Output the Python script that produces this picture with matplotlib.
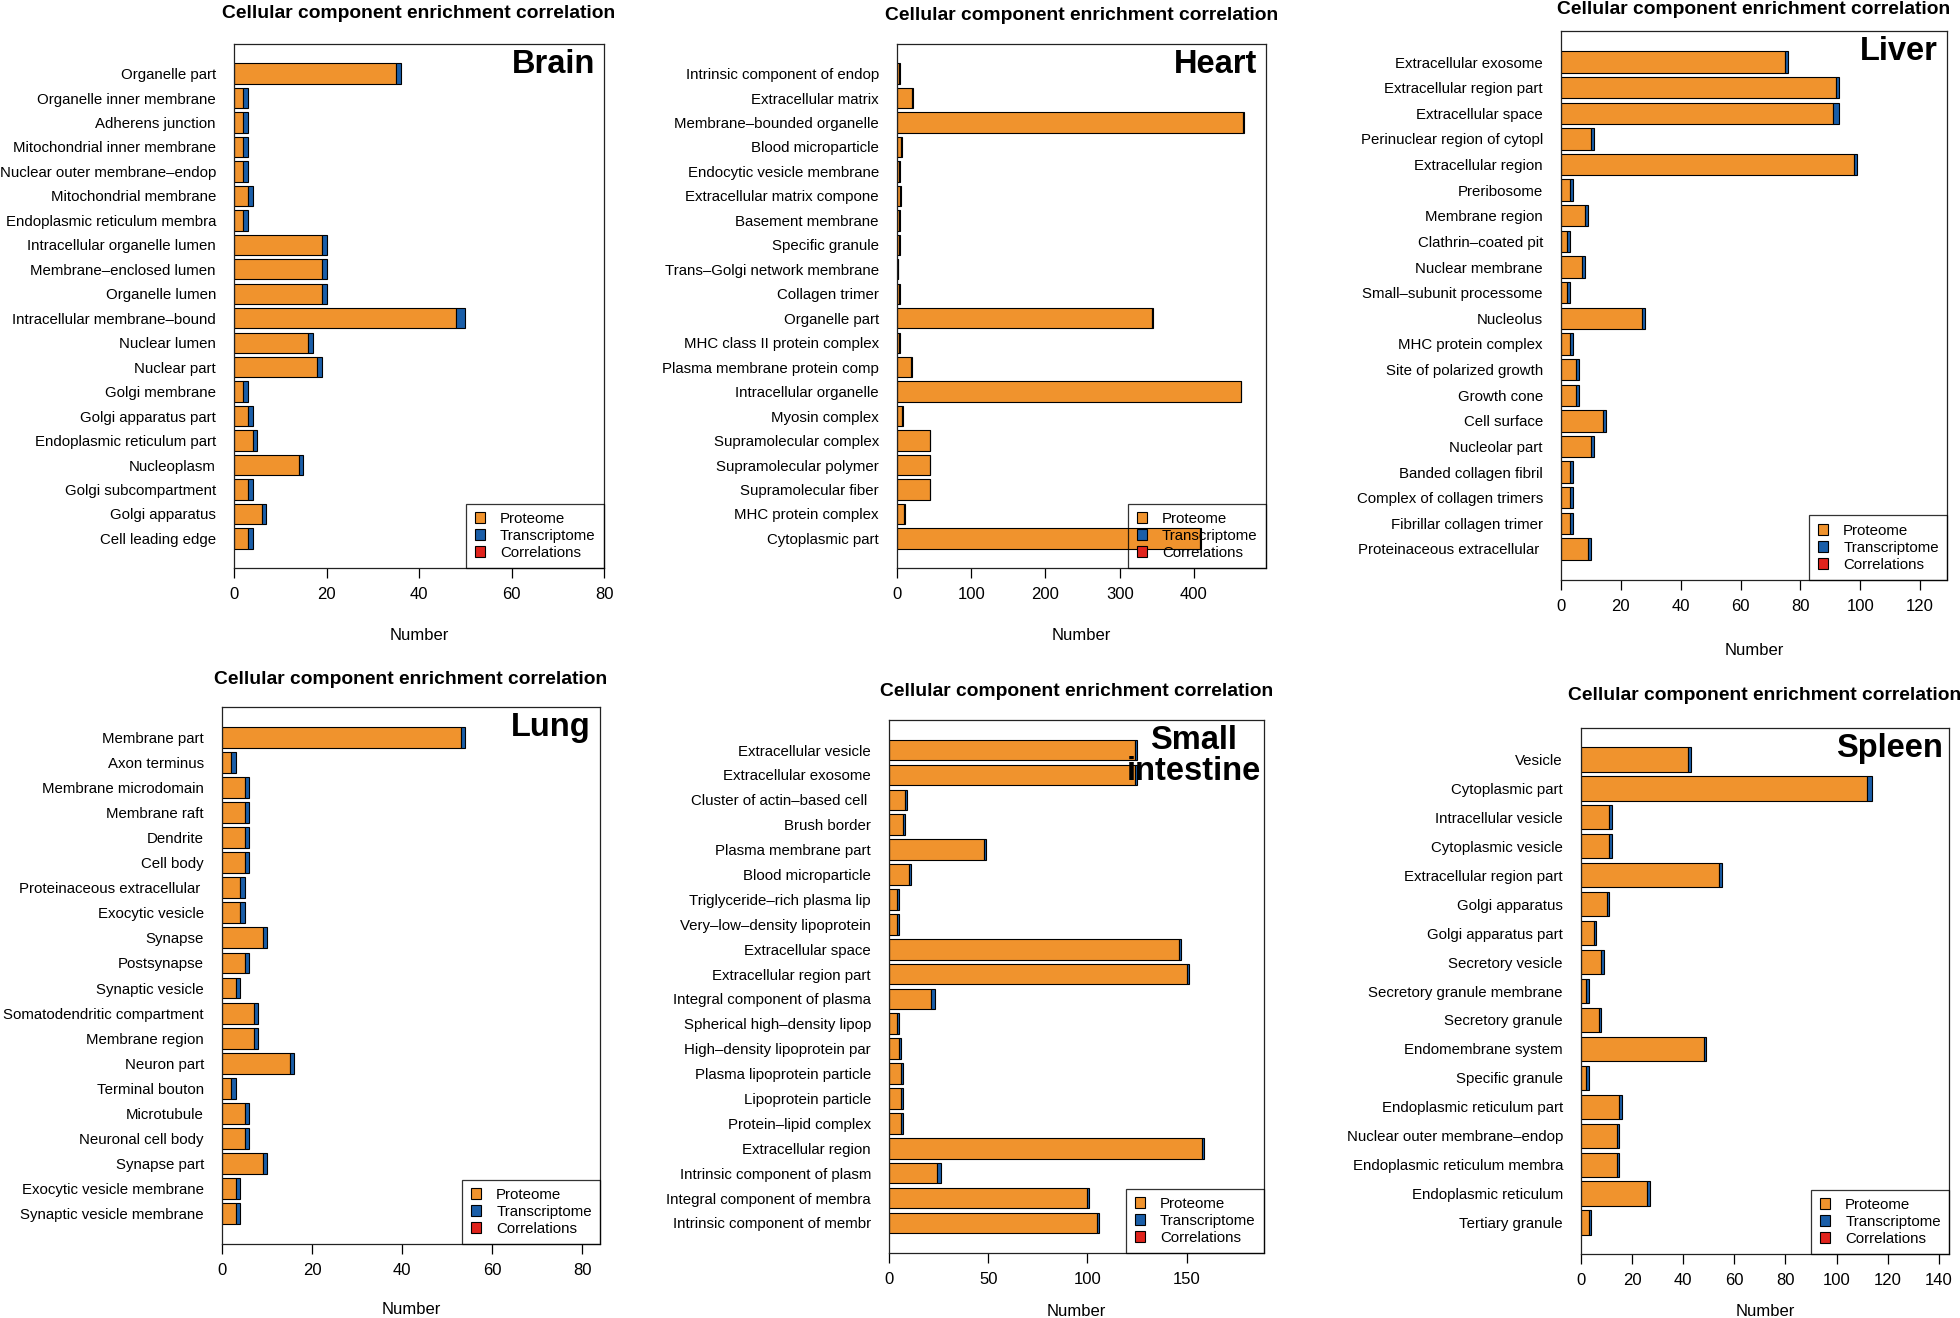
import numpy as np
import matplotlib.pyplot as plt
from matplotlib.patches import Patch
from matplotlib.ticker import MultipleLocator

plt.rcParams['font.family'] = ['Liberation Sans', 'DejaVu Sans']

# ---- data (top to bottom as shown) ----
brain_terms = ['Organelle part', 'Organelle inner membrane', 'Adherens junction',
               'Mitochondrial inner membrane', 'Nuclear outer membrane–endop',
               'Mitochondrial membrane', 'Endoplasmic reticulum membra',
               'Intracellular organelle lumen', 'Membrane–enclosed lumen', 'Organelle lumen',
               'Intracellular membrane–bound', 'Nuclear lumen', 'Nuclear part', 'Golgi membrane',
               'Golgi apparatus part', 'Endoplasmic reticulum part', 'Nucleoplasm',
               'Golgi subcompartment', 'Golgi apparatus', 'Cell leading edge']
brain_prot = [35, 2, 2, 2, 2, 3, 2, 19, 19, 19, 48, 16, 18, 2, 3, 4, 14, 3, 6, 3]
brain_trans = [1, 1, 1, 1, 1, 1, 1, 1, 1, 1, 2, 1, 1, 1, 1, 1, 1, 1, 1, 1]

heart_terms = ['Intrinsic component of endop', 'Extracellular matrix', 'Membrane–bounded organelle',
               'Blood microparticle', 'Endocytic vesicle membrane', 'Extracellular matrix compone',
               'Basement membrane', 'Specific granule', 'Trans–Golgi network membrane',
               'Collagen trimer', 'Organelle part', 'MHC class II protein complex',
               'Plasma membrane protein comp', 'Intracellular organelle', 'Myosin complex',
               'Supramolecular complex', 'Supramolecular polymer', 'Supramolecular fiber',
               'MHC protein complex', 'Cytoplasmic part']
heart_prot = [3, 20, 466, 6, 3, 4, 3, 3, 1, 3, 344, 3, 19, 463, 7, 44, 44, 44, 10, 408]
heart_trans = [1, 1, 1, 1, 1, 1, 1, 1, 1, 1, 1, 1, 1, 1, 1, 1, 1, 1, 1, 1]

liver_terms = ['Extracellular exosome', 'Extracellular region part', 'Extracellular space',
               'Perinuclear region of cytopl', 'Extracellular region', 'Preribosome',
               'Membrane region', 'Clathrin–coated pit', 'Nuclear membrane',
               'Small–subunit processome', 'Nucleolus', 'MHC protein complex',
               'Site of polarized growth', 'Growth cone', 'Cell surface', 'Nucleolar part',
               'Banded collagen fibril', 'Complex of collagen trimers', 'Fibrillar collagen trimer',
               'Proteinaceous extracellular ']
liver_prot = [75, 92, 91, 10, 98, 3, 8, 2, 7, 2, 27, 3, 5, 5, 14, 10, 3, 3, 3, 9]
liver_trans = [1, 1, 2, 1, 1, 1, 1, 1, 1, 1, 1, 1, 1, 1, 1, 1, 1, 1, 1, 1]

lung_terms = ['Membrane part', 'Axon terminus', 'Membrane microdomain', 'Membrane raft', 'Dendrite',
              'Cell body', 'Proteinaceous extracellular ', 'Exocytic vesicle', 'Synapse',
              'Postsynapse', 'Synaptic vesicle', 'Somatodendritic compartment', 'Membrane region',
              'Neuron part', 'Terminal bouton', 'Microtubule', 'Neuronal cell body', 'Synapse part',
              'Exocytic vesicle membrane', 'Synaptic vesicle membrane']
lung_prot = [53, 2, 5, 5, 5, 5, 4, 4, 9, 5, 3, 7, 7, 15, 2, 5, 5, 9, 3, 3]
lung_trans = [1, 1, 1, 1, 1, 1, 1, 1, 1, 1, 1, 1, 1, 1, 1, 1, 1, 1, 1, 1]

si_terms = ['Extracellular vesicle', 'Extracellular exosome', 'Cluster of actin–based cell ',
            'Brush border', 'Plasma membrane part', 'Blood microparticle',
            'Triglyceride–rich plasma lip', 'Very–low–density lipoprotein', 'Extracellular space',
            'Extracellular region part', 'Integral component of plasma', 'Spherical high–density lipop',
            'High–density lipoprotein par', 'Plasma lipoprotein particle', 'Lipoprotein particle',
            'Protein–lipid complex', 'Extracellular region', 'Intrinsic component of plasm',
            'Integral component of membra', 'Intrinsic component of membr']
si_prot = [124, 124, 8, 7, 48, 10, 4, 4, 146, 150, 21, 4, 5, 6, 6, 6, 158, 24, 100, 105]
si_trans = [1, 1, 1, 1, 1, 1, 1, 1, 1, 1, 2, 1, 1, 1, 1, 1, 1, 2, 1, 1]

spleen_terms = ['Vesicle', 'Cytoplasmic part', 'Intracellular vesicle', 'Cytoplasmic vesicle',
                'Extracellular region part', 'Golgi apparatus', 'Golgi apparatus part',
                'Secretory vesicle', 'Secretory granule membrane', 'Secretory granule',
                'Endomembrane system', 'Specific granule', 'Endoplasmic reticulum part',
                'Nuclear outer membrane–endop', 'Endoplasmic reticulum membra',
                'Endoplasmic reticulum', 'Tertiary granule']
spleen_prot = [42, 112, 11, 11, 54, 10, 5, 8, 2, 7, 48, 2, 15, 14, 14, 26, 3]
spleen_trans = [1, 2, 1, 1, 1, 1, 1, 1, 1, 1, 1, 1, 1, 1, 1, 1, 1]

series_labels = ['Proteome', 'Transcriptome', 'Correlations']
colors = ['#F0932D', '#1A5EA8', '#E0231C']

panels = [
    ('Brain', brain_terms, brain_prot, brain_trans),
    ('Heart', heart_terms, heart_prot, heart_trans),
    ('Liver', liver_terms, liver_prot, liver_trans),
    ('Lung', lung_terms, lung_prot, lung_trans),
    ('Small\nintestine', si_terms, si_prot, si_trans),
    ('Spleen', spleen_terms, spleen_prot, spleen_trans),
]

# layout in pixels: left, top, right, bottom, tick step, title y, xlabel y, label right gap
layout = {
    'Brain': (234, 44, 604, 568, 20, 14, 636, 9),
    'Heart': (897, 44, 1266, 568, 100, 16, 636, 9),
    'Liver': (1561, 31, 1947, 580, 20, 9, 651, 9),
    'Lung': (222, 707, 600, 1244, 20, 679, 1310, 9),
    'Small\nintestine': (889, 720, 1264, 1253, 50, 692, 1311, 3),
    'Spleen': (1581, 728, 1949, 1254, 20, 696, 1311, 6),
}

W, H = 1960, 1318
fig = plt.figure(figsize=(W / 100, H / 100), dpi=100)

for name, terms, prot, trans in panels:
    l, t, r, b, step, ty, ly, gap = layout[name]
    ax = fig.add_axes([l / W, 1 - b / H, (r - l) / W, (b - t) / H])
    n = len(terms)
    prot = np.array(prot)
    trans = np.array(trans)
    pos = 0.7 + 1.2 * np.arange(n)[::-1]

    ax.barh(pos, prot, height=1, color=colors[0], edgecolor='black', linewidth=0.8)
    ax.barh(pos, trans, left=prot, height=1, color=colors[1], edgecolor='black', linewidth=0.8)

    top = 1.2 * n
    pad = 0.04 * (top - 0.2)
    ax.set_ylim(0.2 - pad, top + pad)
    ax.set_xlim(0, (prot + trans).max() + 30)

    ax.set_yticks(pos)
    ax.set_yticklabels(terms, fontsize=10.8)
    ax.tick_params(axis='y', length=0, pad=13)
    ax.xaxis.set_major_locator(MultipleLocator(step))
    ax.tick_params(axis='x', length=7, width=0.9, pad=7, labelsize=12)
    for s in ax.spines.values():
        s.set_linewidth(0.9)
        s.set_color('#222222')

    ax.set_xlabel('Number', fontsize=12)
    ax.xaxis.set_label_coords(0.5, -(ly - b) / (b - t))
    ax.xaxis.label.set_verticalalignment('center')

    ax.text(1 - gap / (r - l), 1 - 5 / (b - t), name, transform=ax.transAxes,
            ha='right', va='top', fontsize=23.5, fontweight='bold',
            multialignment='center', linespacing=1.0)

    fig.text((l + r) / 2 / W, 1 - ty / H, 'Cellular component enrichment correlation',
             ha='center', va='center', fontsize=13.9, fontweight='bold')

    handles = [Patch(facecolor=c, edgecolor='black', linewidth=0.8, label=lab)
               for c, lab in zip(colors, series_labels)]
    leg = ax.legend(handles=handles, loc='lower right', borderaxespad=0, fancybox=False,
                    edgecolor='black', facecolor='none', framealpha=None, fontsize=10.8,
                    handlelength=0.7, handleheight=0.7, handletextpad=1.0,
                    borderpad=0.55, labelspacing=0.2)
    leg.get_frame().set_linewidth(0.9)

fig.savefig('out.png', dpi=100)
